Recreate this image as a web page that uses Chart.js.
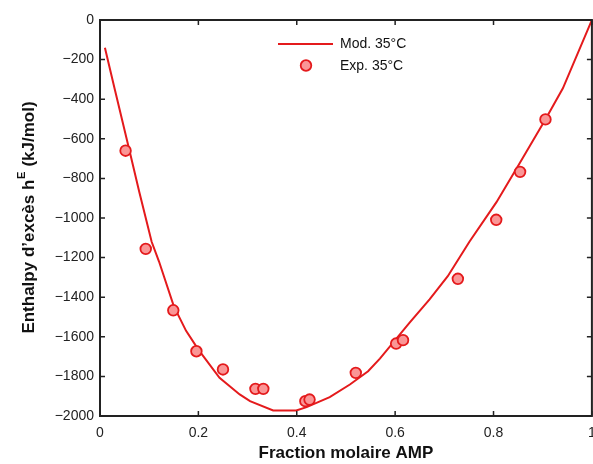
<!DOCTYPE html>
<html>
<head>
<meta charset="utf-8">
<script src="https://cdn.jsdelivr.net/npm/chart.js@4/dist/chart.umd.min.js"></script>
<style>
html,body{margin:0;padding:0;background:#fff;overflow:hidden;}
#wrap{width:593px;height:464px;position:relative;overflow:hidden;}
</style>
</head>
<body>
<div id="wrap"><canvas id="c" width="599" height="464"></canvas></div>
<script>
// Model curve (Mod. 35°C)
const modelX = [0.01, 0.03, 0.06, 0.08, 0.105, 0.12, 0.15, 0.175, 0.20, 0.243, 0.284, 0.305, 0.352, 0.399, 0.42, 0.467, 0.508, 0.545, 0.569, 0.629, 0.670, 0.707, 0.751, 0.806, 0.854, 0.906, 0.941, 1.0];
const modelY = [-140, -350, -660, -870, -1120, -1220, -1445, -1570, -1665, -1807, -1891, -1925, -1972, -1972, -1955, -1905, -1841, -1774, -1710, -1530, -1411, -1294, -1120, -920, -720, -500, -345, 0];
// Experimental points (Exp. 35°C)
const expX = [0.052, 0.093, 0.149, 0.196, 0.250, 0.316, 0.332, 0.4175, 0.426, 0.520, 0.602, 0.616, 0.7275, 0.8055, 0.854, 0.9056];
const expY = [-660, -1156, -1466, -1673, -1765, -1863, -1863, -1925, -1917, -1782, -1634, -1617, -1307, -1009, -767, -502];
// Axis ticks
const xTicks = [0, 0.2, 0.4, 0.6, 0.8, 1];
const yTicks = [0, -200, -400, -600, -800, -1000, -1200, -1400, -1600, -1800, -2000];
const seriesNames = ['Mod. 35°C', 'Exp. 35°C'];
const xTitle = 'Fraction molaire AMP';

const RED = 'rgb(228,26,28)';
const PINK = 'rgb(250,150,150)';
const AX = '#222';
const FONT = '"Liberation Sans", Arial, Helvetica, sans-serif';

const frame = {
  id: 'frame',
  afterDraw(chart) {
    const ctx = chart.ctx, a = chart.chartArea;
    const xs = chart.scales.x, ys = chart.scales.y;
    ctx.save();
    ctx.strokeStyle = AX;
    ctx.lineWidth = 2;
    ctx.strokeRect(a.left, a.top, a.right - a.left, a.bottom - a.top);
    ctx.lineWidth = 1.5;
    ctx.beginPath();
    xTicks.forEach(v => {
      const px = xs.getPixelForValue(v);
      ctx.moveTo(px, a.bottom); ctx.lineTo(px, a.bottom - 5);
      ctx.moveTo(px, a.top); ctx.lineTo(px, a.top + 5);
    });
    yTicks.forEach(v => {
      const py = ys.getPixelForValue(v);
      ctx.moveTo(a.left, py); ctx.lineTo(a.left + 5, py);
      ctx.moveTo(a.right, py); ctx.lineTo(a.right - 5, py);
    });
    ctx.stroke();

    // Legend
    ctx.strokeStyle = RED; ctx.lineWidth = 2;
    ctx.beginPath(); ctx.moveTo(278, 44); ctx.lineTo(333, 44); ctx.stroke();
    ctx.beginPath(); ctx.arc(306, 65.5, 5.3, 0, Math.PI * 2);
    ctx.fillStyle = PINK; ctx.fill(); ctx.lineWidth = 1.8; ctx.stroke();
    ctx.fillStyle = '#111';
    ctx.font = '14px ' + FONT;
    ctx.textBaseline = 'middle'; ctx.textAlign = 'left';
    ctx.fillText(seriesNames[0], 340, 44.5);
    ctx.fillText(seriesNames[1], 340, 66);

    // Y title with superscript
    ctx.translate(29, 218);
    ctx.rotate(-Math.PI / 2);
    const bold = 'bold 17px ' + FONT, sup = 'bold 11px ' + FONT;
    const p1 = 'Enthalpy d’excès h', p2 = 'E', p3 = ' (kJ/mol)';
    ctx.font = bold; const w1 = ctx.measureText(p1).width, w3 = ctx.measureText(p3).width;
    ctx.font = sup; const w2 = ctx.measureText(p2).width;
    let x0 = -(w1 + w2 + w3) / 2;
    ctx.fillStyle = '#111';
    ctx.textBaseline = 'middle';
    ctx.font = bold; ctx.fillText(p1, x0, 0); x0 += w1;
    ctx.font = sup; ctx.fillText(p2, x0 + 0.5, -7); x0 += w2 + 1;
    ctx.font = bold; ctx.fillText(p3, x0, 0);
    ctx.restore();
  }
};

new Chart(document.getElementById('c'), {
  type: 'scatter',
  data: {
    datasets: [
      {
        label: seriesNames[0],
        type: 'line',
        data: modelX.map((x, i) => ({x, y: modelY[i]})),
        borderColor: RED, borderWidth: 2, pointRadius: 0, tension: 0, fill: false,
        order: 2
      },
      {
        label: seriesNames[1],
        data: expX.map((x, i) => ({x, y: expY[i]})),
        backgroundColor: PINK, borderColor: RED, borderWidth: 1.8, pointRadius: 5.3,
        order: 1
      }
    ]
  },
  options: {
    responsive: false,
    animation: false,
    layout: { padding: { top: 20, right: 0, left: 0, bottom: 0 } },
    plugins: { legend: { display: false }, tooltip: { enabled: false } },
    scales: {
      x: {
        type: 'linear', min: 0, max: 1,
        afterBuildTicks: s => { s.ticks = xTicks.map(v => ({value: v})); },
        ticks: { font: { size: 14, family: FONT }, color: '#222', padding: 9, maxRotation: 0,
                 callback: v => String(v) },
        grid: { display: false, drawTicks: false },
        border: { display: false },
        title: { display: true, text: xTitle, font: { size: 17, weight: 'bold', family: FONT }, color: '#111', padding: { top: 6, bottom: 0 } },
        afterFit: s => { s.height = 48; s.paddingLeft = 0; s.paddingRight = 0; }
      },
      y: {
        type: 'linear', min: -2000, max: 0,
        afterBuildTicks: s => { s.ticks = yTicks.map(v => ({value: v})); },
        ticks: { font: { size: 14, family: FONT }, color: '#222', padding: 6,
                 callback: v => String(v).replace('-', '\u2212') },
        grid: { display: false, drawTicks: false },
        border: { display: false },
        afterFit: s => { s.width = 100; s.paddingTop = 0; s.paddingBottom = 0; }
      }
    }
  },
  plugins: [frame]
});
</script>
</body>
</html>
